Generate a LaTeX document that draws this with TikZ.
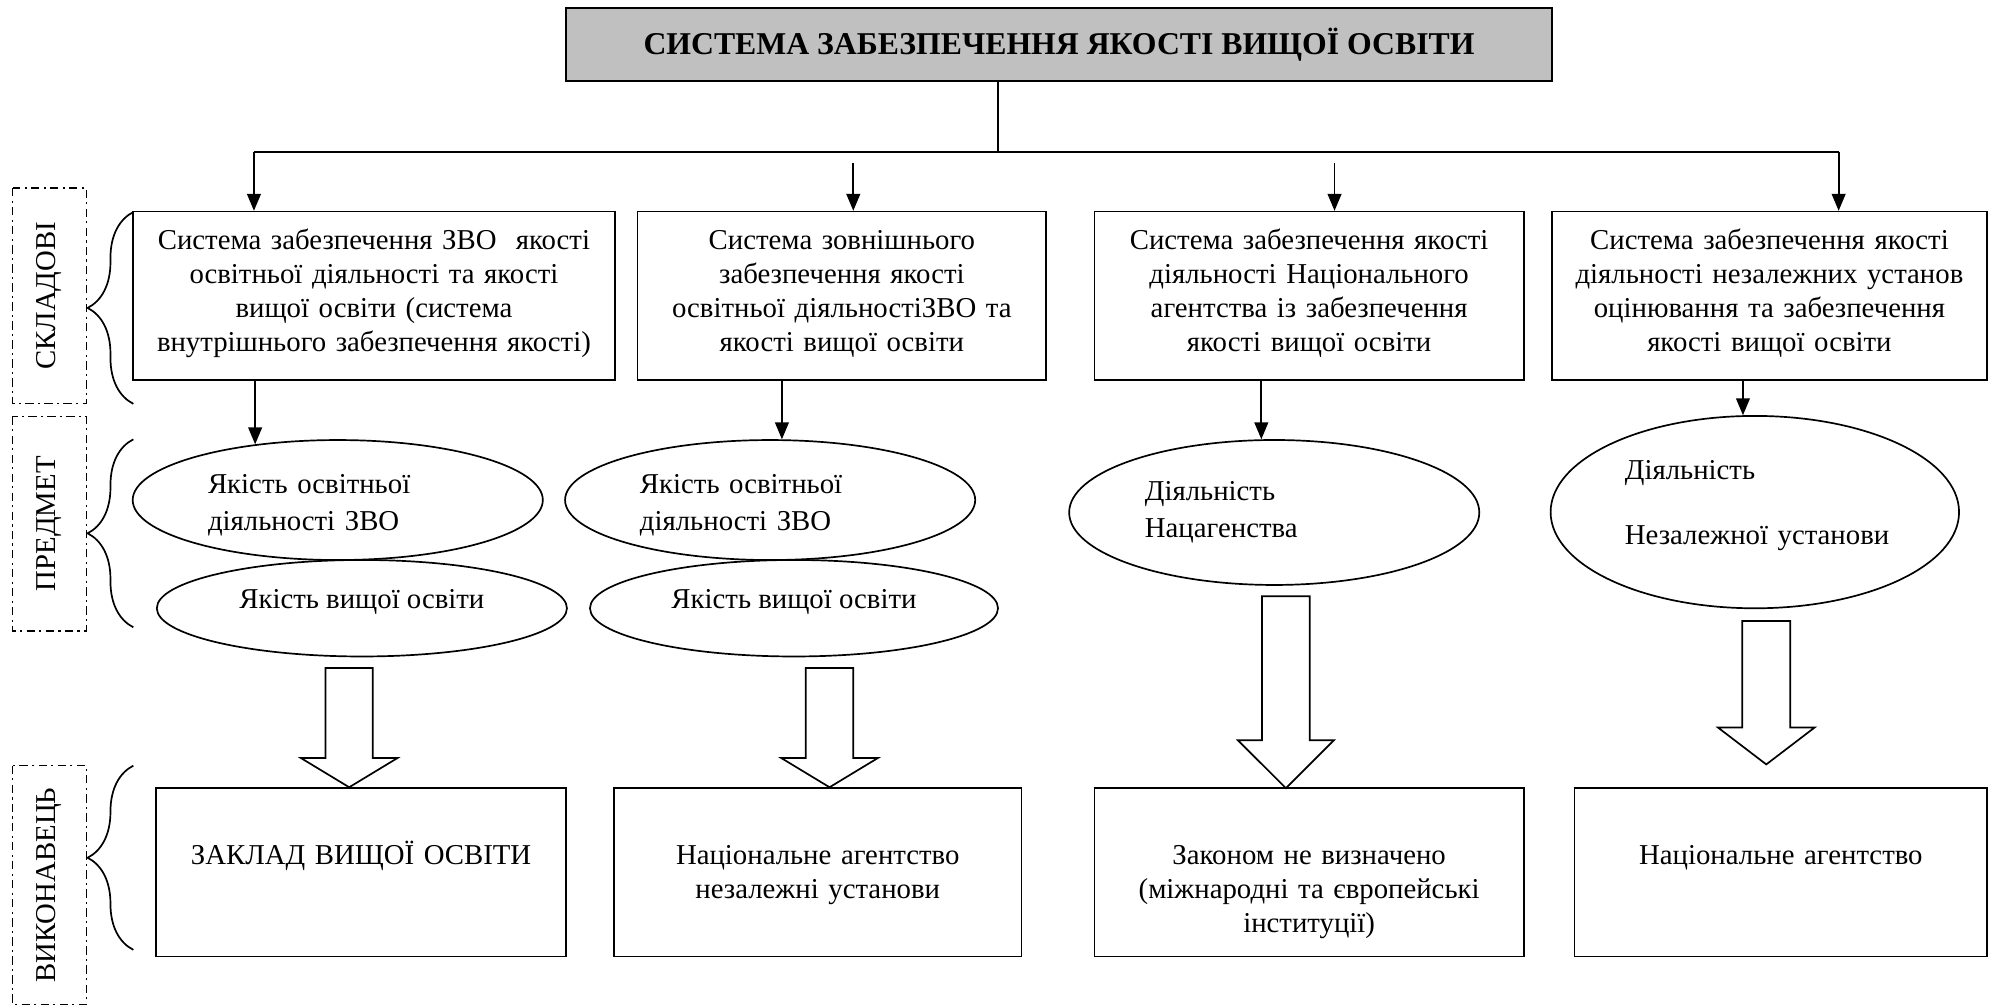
\documentclass[tikz,border=0pt]{standalone}
\usepackage{fontspec}
\setmainfont{Liberation Serif}
\usepackage{tikz}
\usetikzlibrary{arrows.meta,positioning,shapes.geometric,decorations.pathreplacing}
\definecolor{titlegray}{RGB}{192,192,192}

\begin{document}
\begin{tikzpicture}[
  x=0.6pt, y=-0.6pt,
  titlebox/.style={draw, line width=0.8pt, fill=titlegray, minimum width=465.9pt, minimum height=34.5pt, font=\bfseries\fontsize{15}{18}\selectfont},
  topbox/.style={draw, line width=0.8pt, align=center, inner xsep=3pt, inner ysep=0pt, text height=18pt, text depth=61.4pt, font=\fontsize{13.6}{16}\selectfont},
  botbox/.style={draw, line width=0.8pt, align=center, inner xsep=3pt, inner ysep=0pt, text height=36pt, text depth=43.4pt, font=\fontsize{13.6}{16}\selectfont},
  oval/.style={draw, ellipse, line width=0.8pt, inner sep=0pt, align=left, font=\fontsize{13.6}{17.5}\selectfont},
  side/.style={draw, line width=0.6pt, dash pattern=on 4pt off 2pt on 1pt off 2pt, rotate=90, inner sep=0pt, minimum height=34.8pt, font=\fontsize{13.6}{16}\selectfont},
  brc/.style={decorate, decoration={brace, amplitude=21.6pt}, line width=0.8pt},
  arr/.style={-{Triangle[length=8pt,width=6.5pt]}, line width=0.8pt},
  fat/.style={line width=0.8pt, line join=miter}
]
\useasboundingbox (0,0) rectangle (1568,791);

% title and bus
\node[titlebox] (title) at (834,35) {СИСТЕМА ЗАБЕЗПЕЧЕННЯ ЯКОСТІ ВИЩОЇ ОСВІТИ};
\coordinate (hub) at (786,119.5);
\coordinate (busL) at (200,119.5);
\coordinate (busR) at (1448,119.5);
\coordinate (t2) at (672,128.7);
\coordinate (t3) at (1051,128.7);

% components
\node[topbox, text width=221.8pt] (b1) at (294.5,232.85) {Система забезпечення ЗВО\ \ якості\\освітньої діяльності та якості\\вищої освіти (система\\внутрішнього забезпечення якості)};
\node[topbox, text width=187.2pt] (b2) at (663,232.85) {Система зовнішнього\\забезпечення якості\\освітньої діяльностіЗВО та\\якості вищої освіти};
\node[topbox, text width=196.8pt] (b3) at (1031,232.85) {Система забезпечення якості\\діяльності Національного\\агентства із забезпечення\\якості вищої освіти};
\node[topbox, text width=199.8pt] (b4) at (1393.5,232.85) {Система забезпечення якості\\діяльності незалежних установ\\оцінювання та забезпечення\\якості вищої освіти};

% subject
\node[oval, minimum width=193.8pt, minimum height=56.7pt, text width=122.6pt, text height=14pt] (e1a) at (266,393.8) {Якість освітньої\\діяльності ЗВО};
\node[oval, align=center, minimum width=193.8pt, minimum height=45.6pt, text depth=9pt] (e1b) at (285,479) {Якість вищої освіти};
\node[oval, minimum width=193.8pt, minimum height=56.7pt, text width=123pt, text height=14pt] (e2a) at (606.5,393.8) {Якість освітньої\\діяльності ЗВО};
\node[oval, align=center, minimum width=192.8pt, minimum height=45.6pt, text depth=9pt] (e2b) at (625.3,479) {Якість вищої освіти};
\node[oval, minimum width=193.8pt, minimum height=68.5pt, text width=122.2pt] (e3) at (1003.5,403.6) {Діяльність\\Нацагенства};
\node[oval, minimum width=193pt, minimum height=90.9pt, text width=122.8pt, text depth=39.5pt] (e4) at (1382,403.3) {Діяльність\\[13pt]Незалежної~установи};

% performers
\node[botbox, text width=187.6pt] (c1) at (284.4,687) {ЗАКЛАД ВИЩОЇ ОСВІТИ};
\node[botbox, text width=186.6pt] (c2) at (644,687) {Національне агентство\\незалежні установи};
\node[botbox, text width=196.8pt] (c3) at (1031,687) {Законом не визначено\\(міжнародні та європейські\\інституції)};
\node[botbox, text width=189pt] (c4) at (1402.5,687) {Національне агентство};

% side labels
\node[side, minimum width=102pt] (s1) at (39,233) {СКЛАДОВІ};
\node[side, minimum width=101.4pt] (s2) at (39,412.5) {ПРЕДМЕТ};
\node[side, minimum width=112.8pt] (s3) at (39,697) {ВИКОНАВЕЦЬ};

% braces
\draw[brc] (105,318) -- (105,167);
\draw[brc] (105,494) -- (105,346);
\draw[brc] (105,748) -- (105,603);

% connectors
\draw[line width=0.8pt] (title.south -| hub) -- (hub);
\draw[line width=0.8pt] (busL) -- (busR);
\draw[arr] (busL) -- (busL |- b1.north);
\draw[arr] (t2) -- (t2 |- b2.north);
\draw[arr] (t3) -- (t3 |- b3.north);
\draw[arr] (busR) -- (busR |- b4.north);
\coordinate (p1) at (e1a.146.5);
\coordinate (p2) at (e2a.79);
\coordinate (p3) at (e3.100);
\coordinate (p4) at (e4.97);
\draw[arr] (p1 |- b1.south) -- (p1);
\draw[arr] (p2 |- b2.south) -- (p2);
\draw[arr] (p3 |- b3.south) -- (p3);
\draw[arr] (p4 |- b4.south) -- (p4);

% hollow arrows
\draw[fat] (256.4,526) -- (256.4,597) -- (237,597) -- (275,620) -- (313,597) -- (293.6,597) -- (293.6,526) -- cycle;
\draw[fat] (634.6,526) -- (634.6,597) -- (615.3,597) -- (653.3,620) -- (691.3,597) -- (672,597) -- (672,526) -- cycle;
\draw[fat] (993.9,469.5) -- (993.9,583) -- (974.9,583) -- (1012.7,620.7) -- (1050.5,583) -- (1031.5,583) -- (1031.5,469.5) -- cycle;
\draw[fat] (1372.1,489) -- (1372.1,573) -- (1353,573) -- (1391,602) -- (1429,573) -- (1409.9,573) -- (1409.9,489) -- cycle;
\end{tikzpicture}
\end{document}
